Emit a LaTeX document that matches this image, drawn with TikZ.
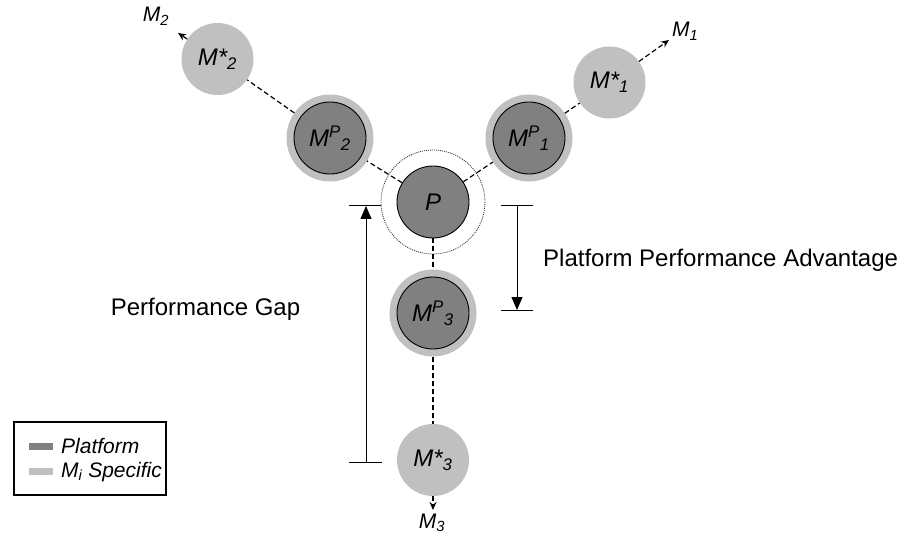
\documentclass[tikz,border=0pt]{standalone}
\usepackage{fontspec}
\setmainfont{Liberation Sans}
\usetikzlibrary{arrows.meta}
\definecolor{platgray}{HTML}{808080}
\definecolor{specgray}{HTML}{C0C0C0}

\begin{document}
\begin{tikzpicture}[x=1pt,y=-1pt,
        plat/.style = {shape=circle, draw=black, line width=0.9pt,
          fill=platgray, minimum size=72pt, inner sep=0pt,
          font=\fontsize{24}{28}\selectfont\itshape},
        platring/.style = {plat, outer sep=7.5pt,
          preaction={draw=specgray, line width=15pt}},
        spec/.style = {shape=circle, fill=specgray,
          minimum size=72pt, inner sep=0pt,
          font=\fontsize{24}{28}\selectfont\itshape},
        link/.style = {line width=1.2pt, dash pattern=on 5pt off 3pt},
        leave/.style = {link, -{Stealth[length=8pt,width=7pt]}},
        tag/.style = {inner sep=0pt, font=\fontsize{21}{25}\selectfont\itshape},
        caption/.style = {inner sep=0pt, font=\fontsize{24}{28}\selectfont},
        measure/.style = {line width=1pt, -{Triangle[length=13pt,width=11pt]}},
        tickline/.style = {line width=1pt},
        halo/.style = {line width=0.8pt, draw=black!80,
          dash pattern=on 1pt off 1pt},
        swatch/.style = {shape=rectangle, minimum width=24pt,
          minimum height=7pt, inner sep=0pt},
        legendtext/.style = {inner sep=0pt, font=\fontsize{21}{25}\selectfont\itshape}]
  \useasboundingbox (0,0) rectangle (900,540);

  \node[plat] (p) at (433,202) {P};
  \draw[halo] (p) circle (52);
  \node[platring] (m1p) at (529,138) {M\textsuperscript{P}\textsubscript{1}};
  \node[platring] (m2p) at (330,138) {M\textsuperscript{P}\textsubscript{2}};
  \node[platring] (m3p) at (433,313) {M\textsuperscript{P}\textsubscript{3}};
  \node[spec] (m1s) at (609.5,82.5) {M*\textsubscript{1}};
  \node[spec] (m2s) at (217.5,59) {M*\textsubscript{2}};
  \node[spec] (m3s) at (433,460) {M*\textsubscript{3}};

  \coordinate (t1) at (669,40);
  \coordinate (t2) at (178,33);
  \coordinate (t3) at (433,510);
  \node[tag, anchor=base west] (lm1) at (672,37) {M\textsubscript{1}};
  \node[tag, anchor=base] (lm2) at (156,22) {M\textsubscript{2}};
  \node[tag, anchor=base] (lm3) at (432,528) {M\textsubscript{3}};

  \draw[link] (p) -- (m1p);
  \draw[link] (p) -- (m2p);
  \draw[link] (p) -- (m3p);
  \draw[link] (m1p) -- (m1s);
  \draw[link] (m2p) -- (m2s);
  \draw[link] (m3p) -- (m3s);
  \draw[leave] (m1s) -- (t1);
  \draw[leave] (m2s) -- (t2);
  \draw[leave] (m3s) -- (t3);

  \coordinate (gaptop) at (366,206);
  \coordinate (gapbot) at (366,462);
  \coordinate (advtop) at (517,206);
  \coordinate (advbot) at (517,310);
  \draw[tickline] ([xshift=-17pt]gaptop) -- ([xshift=15pt]gaptop);
  \draw[tickline] ([xshift=-17pt]gapbot) -- ([xshift=16pt]gapbot);
  \draw[measure] (gapbot) -- (gaptop);
  \draw[tickline] ([xshift=-16pt]advtop) -- ([xshift=16pt]advtop);
  \draw[tickline] ([xshift=-16pt]advbot) -- ([xshift=16pt]advbot);
  \draw[measure] (advtop) -- (advbot);

  \node[caption, anchor=base] (gaptext) at (205.5,316) {Performance Gap};
  \node[caption, anchor=base west] (advtext) at (543,267) {Platform Performance Advantage};

  \draw[line width=1.5pt] (14,422) rectangle (166,495);
  \node[swatch, fill=platgray] (swplat) at (41,446.5) {};
  \node[swatch, fill=specgray] (swspec) at (41,471) {};
  \node[legendtext, anchor=base west] (txplat) at (61,453) {Platform};
  \node[legendtext, anchor=base west] (txspec) at (61,477) {M\textsubscript{i} Specific};
\end{tikzpicture}
\end{document}
